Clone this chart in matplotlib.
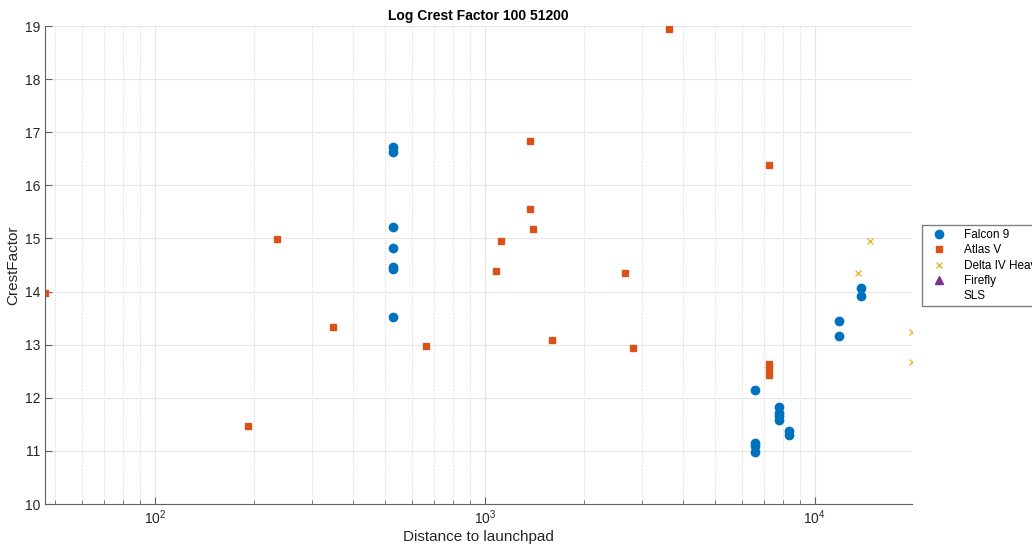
import matplotlib
matplotlib.use("Agg")
import matplotlib.pyplot as plt
from matplotlib.ticker import LogLocator, NullFormatter

plt.rcParams["font.family"] = ["Liberation Sans", "DejaVu Sans"]

# ── Data ──
falcon_x = [526, 526, 526, 526, 526, 526, 526,
            6580, 6580, 6580, 6580,
            7780, 7780, 7780, 7780,
            8370, 8370,
            11830, 11830, 13770, 13770]
falcon_y = [16.73, 16.62, 15.22, 14.82, 14.47, 14.42, 13.52,
            12.15, 11.14, 11.09, 10.97,
            11.82, 11.72, 11.65, 11.59,
            11.37, 11.29,
            13.44, 13.16, 14.07, 13.92]

atlas_x = [46.5, 191, 234, 348, 662, 1084, 1120, 1375, 1368, 1400,
           1600, 2655, 2811, 3620, 7262, 7280, 7280, 7280]
atlas_y = [13.97, 11.47, 14.99, 13.33, 12.98, 14.39, 14.96, 16.83, 15.56, 15.18,
           13.08, 14.34, 12.94, 18.95, 16.38, 12.63, 12.57, 12.43]

delta_x = [13490, 14690, 19700, 19700]
delta_y = [14.34, 14.96, 13.24, 12.67]

firefly_x, firefly_y = [], []
sls_x, sls_y = [], []

fig = plt.figure(figsize=(10.32, 5.45), dpi=100)
ax = fig.add_axes([45 / 1032, 41 / 545, 867 / 1032, 478 / 545])

ax.plot(falcon_x, falcon_y, "o", color="#0072BD", markersize=6, label="Falcon 9")
ax.plot(atlas_x, atlas_y, "s", color="#D95319", markersize=4.5, label="Atlas V")
ax.plot(delta_x, delta_y, "x", color="#EDB120", markersize=5, markeredgewidth=0.9,
        label="Delta IV Heavy")
ax.plot(firefly_x, firefly_y, "^", color="#7E2F8E", markersize=6, label="Firefly")
ax.plot(sls_x, sls_y, linestyle="none", marker="none", label="SLS")

ax.set_xscale("log")
ax.set_xlim(46.5, 19700)
ax.set_ylim(10, 19)
ax.set_yticks(range(10, 20))
ax.xaxis.set_major_locator(LogLocator(base=10))
ax.xaxis.set_minor_locator(LogLocator(base=10, subs=range(2, 10)))
ax.xaxis.set_minor_formatter(NullFormatter())

# MATLAB-like look
for s in ["top", "right"]:
    ax.spines[s].set_visible(False)
for s in ["left", "bottom"]:
    ax.spines[s].set_color("#606060")
    ax.spines[s].set_linewidth(0.8)
ax.tick_params(which="both", direction="in", colors="#606060", labelcolor="#262626",
               labelsize=10)
ax.tick_params(which="major", length=5)
ax.tick_params(which="minor", length=3)
ax.grid(True, which="major", color="#e6e6e6", linewidth=0.8)
ax.grid(True, which="minor", axis="x", color="#d0d0d0", linestyle=":", linewidth=0.7)
ax.set_axisbelow(True)

ax.set_title("Log Crest Factor 100 51200", fontsize=10, fontweight="bold", pad=4)
ax.set_xlabel("Distance to launchpad", fontsize=11, color="#262626", labelpad=2)
ax.set_ylabel("CrestFactor", fontsize=11, color="#262626", labelpad=3)

fig.legend(loc="upper left", bbox_to_anchor=(922 / 1032, 1 - 225 / 545),
           borderaxespad=0, fontsize=8.5, frameon=True, fancybox=False,
           edgecolor="#808080", framealpha=1, handletextpad=1.0, borderpad=0.35,
           labelspacing=0.28, handlelength=2.2)

fig.savefig("out.png", dpi=100)
